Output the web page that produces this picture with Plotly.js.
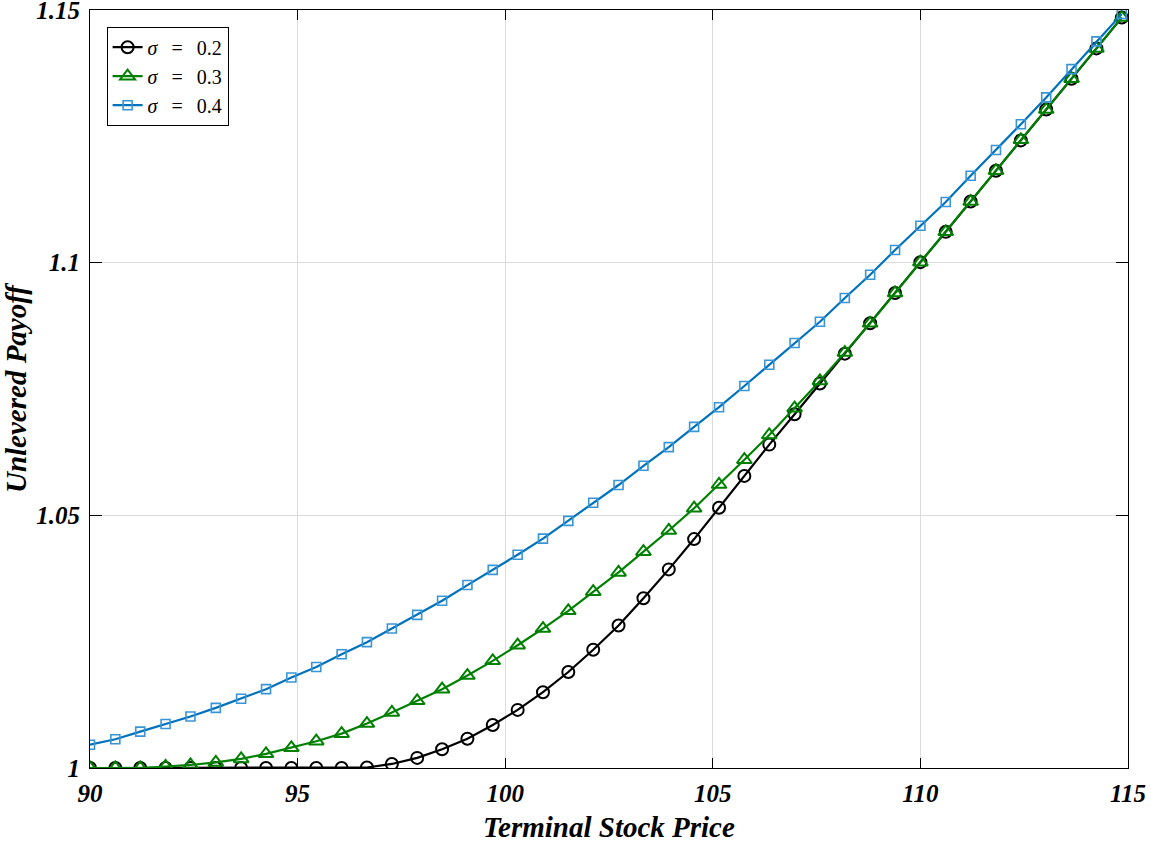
<!DOCTYPE html>
<html>
<head>
<meta charset="utf-8">
<script src="https://cdn.plot.ly/plotly-3.0.1.min.js"></script>
<style>
  html, body { margin: 0; padding: 0; background: #fff; }
  #chart { width: 1151px; height: 842px; }
</style>
</head>
<body>
<div id="chart"></div>
<script>
// ----- data -----
const stockPrice = [
  90.00, 90.61, 91.21, 91.82, 92.42, 93.03, 93.64, 94.24, 94.85, 95.45,
  96.06, 96.67, 97.27, 97.88, 98.48, 99.09, 99.70, 100.30, 100.91, 101.52,
  102.12, 102.73, 103.33, 103.94, 104.55, 105.15, 105.76, 106.36, 106.97, 107.58,
  108.18, 108.79, 109.39, 110.00, 110.61, 111.21, 111.82, 112.42, 113.03, 113.64,
  114.24, 114.85
];

const payoffSigma02 = [
  1.0000, 1.0000, 1.0000, 1.0000, 1.0000, 1.0000, 1.0000, 1.0000, 1.0000, 1.0000,
  1.0000, 1.0001, 1.0008, 1.0020, 1.0037, 1.0058, 1.0085, 1.0115, 1.0150, 1.0190,
  1.0234, 1.0282, 1.0336, 1.0393, 1.0453, 1.0515, 1.0578, 1.0640, 1.0700, 1.0761,
  1.0820, 1.0880, 1.0940, 1.1001, 1.1061, 1.1121, 1.1182, 1.1242, 1.1303, 1.1364,
  1.1424, 1.1485
];

const payoffSigma03 = [
  1.0000, 1.0000, 1.0000, 1.0003, 1.0006, 1.0011, 1.0018, 1.0028, 1.0040, 1.0053,
  1.0068, 1.0088, 1.0110, 1.0133, 1.0156, 1.0183, 1.0212, 1.0243, 1.0276, 1.0311,
  1.0349, 1.0387, 1.0428, 1.0470, 1.0514, 1.0561, 1.0610, 1.0659, 1.0712, 1.0766,
  1.0822, 1.0880, 1.0940, 1.1001, 1.1061, 1.1121, 1.1182, 1.1243, 1.1303, 1.1364,
  1.1424, 1.1485
];

const payoffSigma04 = [
  1.0046, 1.0057, 1.0072, 1.0087, 1.0102, 1.0119, 1.0137, 1.0156, 1.0179, 1.0200,
  1.0225, 1.0249, 1.0276, 1.0303, 1.0331, 1.0362, 1.0392, 1.0422, 1.0454, 1.0489,
  1.0525, 1.0560, 1.0598, 1.0635, 1.0675, 1.0714, 1.0756, 1.0798, 1.0841, 1.0883,
  1.0930, 1.0976, 1.1025, 1.1073, 1.1120, 1.1172, 1.1223, 1.1274, 1.1327, 1.1383,
  1.1438, 1.1492
];

// 数学式风格的图例：σ 与 = 之间留宽一点
const seriesNames = [
  "<i>σ</i>\u2002\u2009=\u2002\u20090.2",
  "<i>σ</i>\u2002\u2009=\u2002\u20090.3",
  "<i>σ</i>\u2002\u2009=\u2002\u20090.4"
];
const xTicks = [90, 95, 100, 105, 110, 115];
const yTicks = [1, 1.05, 1.1, 1.15];
const xTitle = "Terminal Stock Price";
const yTitle = "Unlevered Payoff";

// ----- styling -----
const SERIF = "Liberation Serif";

function boldItalic(size) {
  return { family: SERIF, size: size, weight: "bold", style: "italic", color: "#000000" };
}

const traces = [
  {
    name: seriesNames[0], x: stockPrice, y: payoffSigma02,
    type: "scatter", mode: "lines+markers",
    line: { color: "#000000", width: 2.2 },
    marker: { symbol: "circle-open", size: 12, color: "#000000", line: { width: 2, color: "#000000" } }
  },
  {
    name: seriesNames[1], x: stockPrice, y: payoffSigma03,
    type: "scatter", mode: "lines+markers",
    line: { color: "#008000", width: 2.2 },
    marker: { symbol: "triangle-up-open", size: 13, color: "#008000", line: { width: 2, color: "#008000" } }
  },
  {
    name: seriesNames[2], x: stockPrice, y: payoffSigma04,
    type: "scatter", mode: "lines+markers",
    line: { color: "#0072BD", width: 2.2 },
    marker: { symbol: "square-open", size: 9, color: "#3a95d6", line: { width: 1.6, color: "#3a95d6" } }
  }
];

const layout = {
  width: 1151, height: 842,
  margin: { l: 90, r: 23, t: 10, b: 74 },
  paper_bgcolor: "#ffffff",
  plot_bgcolor: "#ffffff",
  font: { family: SERIF, color: "#000000" },
  showlegend: true,
  xaxis: {
    range: [90, 115],
    tickvals: xTicks,
    ticks: "inside", ticklen: 10, tickwidth: 1, tickcolor: "#000",
    showline: true, linecolor: "#000", linewidth: 1, mirror: "ticks",
    showgrid: true, gridcolor: "#dcdcdc", gridwidth: 1,
    zeroline: false,
    tickfont: boldItalic(25),
    ticklabelstandoff: 3,
    ticklabeloverflow: "allow"
  },
  yaxis: {
    range: [1, 1.15],
    tickvals: yTicks,
    ticks: "inside", ticklen: 12, tickwidth: 1, tickcolor: "#000",
    showline: true, linecolor: "#000", linewidth: 1, mirror: "ticks",
    showgrid: true, gridcolor: "#dcdcdc", gridwidth: 1,
    zeroline: false,
    tickfont: boldItalic(25),
    ticklabelstandoff: 4,
    ticklabeloverflow: "allow",
    title: { text: yTitle, font: boldItalic(29), standoff: 4 }
  },
  annotations: [
    {
      text: xTitle, font: boldItalic(29), showarrow: false,
      xref: "paper", yref: "paper", x: 0.5, y: -0.078,
      xanchor: "center", yanchor: "middle"
    }
  ],
  legend: {
    x: 0.016, y: 0.978, xanchor: "left", yanchor: "top",
    bgcolor: "#ffffff", bordercolor: "#000000", borderwidth: 1,
    font: { family: SERIF, size: 20, color: "#000000" },
    tracegroupgap: 0, itemwidth: 30
  }
};

Plotly.newPlot("chart", traces, layout, { displayModeBar: false, staticPlot: true });
</script>
</body>
</html>
